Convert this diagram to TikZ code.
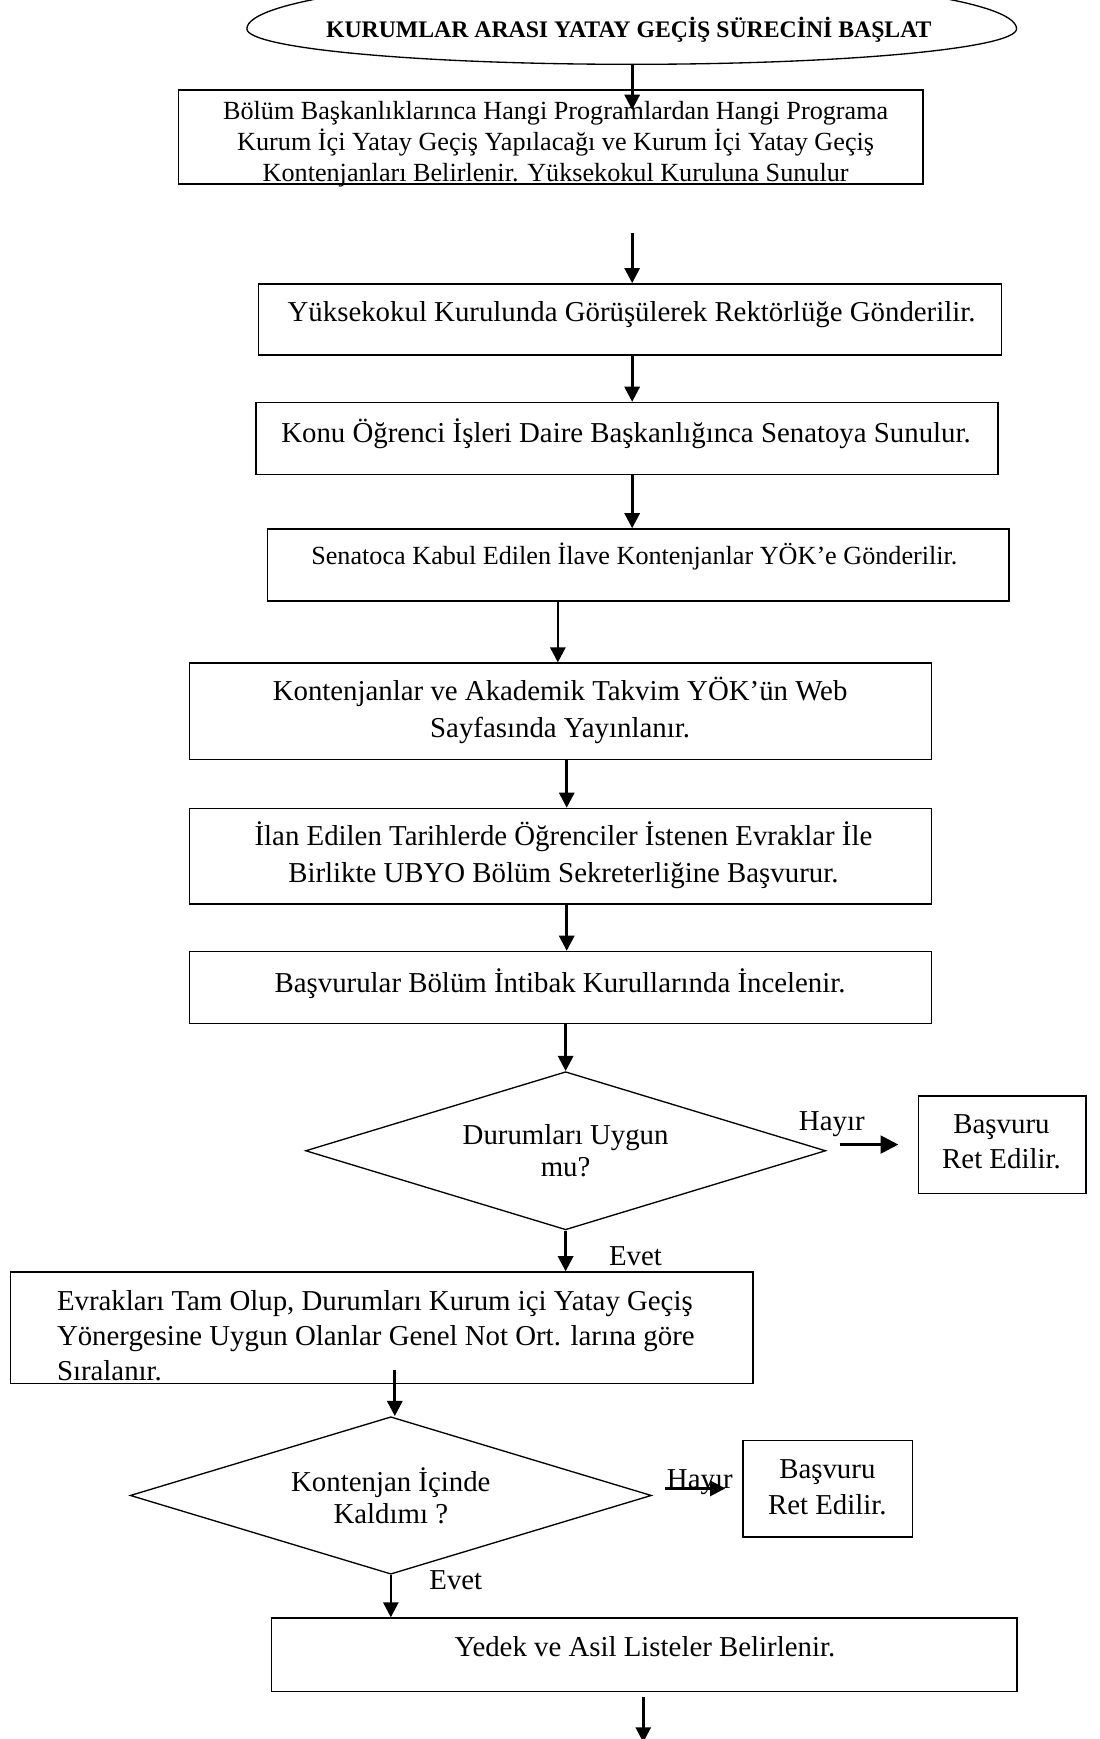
\documentclass[tikz,border=0pt]{standalone}
\usepackage{fontspec}
\setmainfont{Liberation Serif}
\usetikzlibrary{shapes.geometric,arrows.meta}

\tikzset{
  box/.style={draw, line width=0.7pt, inner sep=0pt},
  dia/.style={draw, diamond, aspect=3.29, line width=0.6pt, inner sep=0pt, align=center,
              font=\fontsize{13pt}{14.5pt}\selectfont},
  txt/.style={inner sep=0pt, anchor=base, align=center,
              font=\fontsize{13pt}{16.5pt}\selectfont},
  smalltxt/.style={txt, font=\fontsize{11.8pt}{14pt}\selectfont},
  arr/.style={line width=1.2pt, -{Triangle[length=6.8pt,width=6.8pt]}},
  harr/.style={line width=1.3pt, -{Triangle[length=8pt,width=8pt]}},
}

\begin{document}
\begin{tikzpicture}[x=0.5pt,y=-0.5pt]
\useasboundingbox[fill=white] (0,0) rectangle (991,1568);

% columns used by the vertical connectors
\coordinate (c1) at (570,0);
\coordinate (c2) at (503,0);
\coordinate (c3) at (511,0);
\coordinate (c4) at (356,0);

% start terminal: a flattened oval, its upper half running off the top edge
\node[ellipse, minimum width=347pt, minimum height=32pt, inner sep=0pt] (start) at (570,26) {};
\draw[line width=0.6pt] (start.west)
  arc[start angle=180, end angle=0, x radius=347, y radius=32]
  arc[start angle=0, end angle=-180, x radius=347, y radius=47];
\node[txt, font=\bfseries\fontsize{10.7pt}{12pt}\selectfont] (startt) at (567,34) {KURUMLAR ARASI YATAY GEÇİŞ SÜRECİNİ BAŞLAT};

% process boxes (multi-line texts are placed by the baseline of their last line)
\node[box, minimum width=335.5pt, minimum height=42.5pt] (b1) at (496.5,123.5) {};
\node[smalltxt] (b1t) at (501,164) {Bölüm Başkanlıklarınca Hangi Programlardan Hangi Programa\\Kurum İçi Yatay Geçiş Yapılacağı ve Kurum İçi Yatay Geçiş\\Kontenjanları Belirlenir. Yüksekokul Kuruluna Sunulur};

\node[box, minimum width=335pt, minimum height=32pt] (b2) at (568,288) {};
\node[txt] (b2t) at (569.5,290) {Yüksekokul Kurulunda Görüşülerek Rektörlüğe Gönderilir.};

\node[box, minimum width=334.5pt, minimum height=32.5pt] (b3) at (565.5,395.5) {};
\node[txt] (b3t) at (564.5,399) {Konu Öğrenci İşleri Daire Başkanlığınca Senatoya Sunulur.};

\node[box, minimum width=334.5pt, minimum height=32.5pt] (b4) at (575.5,509.5) {};
\node[smalltxt] (b4t) at (572,509) {Senatoca Kabul Edilen İlave Kontenjanlar YÖK’e Gönderilir.};

\node[box, minimum width=334.5pt, minimum height=43.5pt] (b5) at (505.5,641.5) {};
\node[txt] (b5t) at (505,665) {Kontenjanlar ve Akademik Takvim YÖK’ün Web\\Sayfasında Yayınlanır.};

\node[box, minimum width=334.5pt, minimum height=43pt] (b6) at (505.5,772) {};
\node[txt] (b6t) at (508,795.5) {İlan Edilen Tarihlerde Öğrenciler İstenen Evraklar İle\\Birlikte UBYO Bölüm Sekreterliğine Başvurur.};

\node[box, minimum width=334.5pt, minimum height=32.5pt] (b7) at (505.5,890.5) {};
\node[txt] (b7t) at (505,895) {Başvurular Bölüm İntibak Kurullarında İncelenir.};

% first decision
\node[dia, minimum width=234.5pt, minimum height=71.3pt] (d1) at (510,1037.6) {Durumları Uygun\\mu?};
\node[txt] (h1) at (750,1019) {Hayır};
\node[box, minimum width=75.5pt, minimum height=44pt] (r1) at (903.5,1032) {};
\node[txt, font=\fontsize{13pt}{16pt}\selectfont] (r1t) at (903,1054) {Başvuru\\Ret Edilir.};
\node[txt] (e1) at (573,1141) {Evet};

\node[box, minimum width=334.75pt, minimum height=50.25pt] (b8) at (344.25,1197.25) {};
\node[txt, anchor=base west, align=left, font=\fontsize{13pt}{15.9pt}\selectfont] (b8t) at (51,1245) {Evrakları Tam Olup, Durumları Kurum içi Yatay Geçiş\\Yönergesine Uygun Olanlar Genel Not Ort. larına göre\\Sıralanır.};

% second decision
\node[dia, minimum width=235pt, minimum height=71pt] (d2) at (352.4,1348.4) {Kontenjan İçinde\\Kaldımı ?};
\node[txt] (h2) at (631,1342) {Hayır};
\node[box, minimum width=76.3pt, minimum height=43.5pt] (r2) at (746.3,1342.5) {};
\node[txt, font=\fontsize{13pt}{16.5pt}\selectfont] (r2t) at (746,1366) {Başvuru\\Ret Edilir.};
\node[txt] (e2) at (411,1433) {Evet};

\node[box, minimum width=336pt, minimum height=33pt] (b9) at (581,1492) {};
\node[txt] (b9t) at (581.5,1494) {Yedek ve Asil Listeler Belirlenir.};

% free ends of connectors
\coordinate (a1e) at (570,99);
\coordinate (a2s) at (570,210);
\coordinate (a10s) at (356,1235);
\coordinate (h1s) at (757,1032);
\coordinate (h1e) at (810,1032);
\coordinate (h2s) at (600,1342);
\coordinate (h2e) at (654,1342);
\coordinate (a12s) at (580,1530);
\coordinate (a12e) at (580,1571);

% connectors
\draw[arr] (start.south -| c1) -- (a1e);
\draw[arr] (a2s) -- (b2.north -| c1);
\draw[arr] (b2.south -| c1) -- (b3.north -| c1);
\draw[arr] (b3.south -| c1) -- (b4.north -| c1);
\draw[arr] (b4.south -| c2) -- (b5.north -| c2);
\draw[arr] (b5.south -| c3) -- (b6.north -| c3);
\draw[arr] (b6.south -| c3) -- (b7.north -| c3);
\draw[arr] (b7.south -| d1) -- (d1.north);
\draw[harr] (h1s) -- (h1e);
\draw[arr] (d1.south) -- (b8.north -| d1);
\draw[arr] (a10s) -- (d2.north -| c4);
\draw[arr] (h2s) -- (h2e);
\draw[arr] (d2.south) -- (b9.north -| d2);
\draw[arr] (a12s) -- (a12e);
\end{tikzpicture}
\end{document}
